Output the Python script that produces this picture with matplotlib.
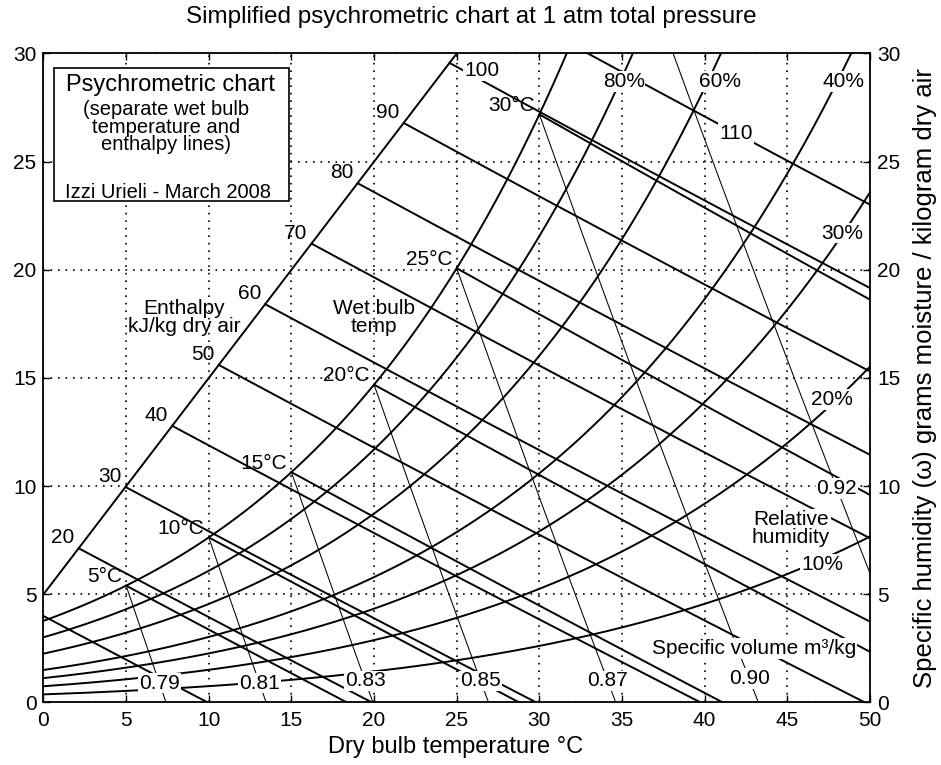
import numpy as np
import matplotlib
matplotlib.use("Agg")
import matplotlib.pyplot as plt
from matplotlib.patches import Rectangle

plt.rcParams['font.family'] = ['Liberation Sans', 'DejaVu Sans']

P_ATM = 101.325  # kPa, total pressure

# ---- chart data ----
rh_levels = [10, 20, 30, 40, 60, 80, 100]                  # % relative humidity curves
rh_label_levels = [10, 20, 30, 40, 60, 80]
rh_label_T = [47.1, 47.7, 48.3, 48.4, 40.9, 35.1]          # label centres (dry bulb)
rh_label_w = [6.4, 14.0, 21.7, 28.7, 28.7, 28.7]           # label centres (g/kg)

enthalpy_levels = [10, 20, 30, 40, 50, 60, 70, 80, 90, 100, 110]   # kJ/kg dry air
enthalpy_scale_labels = [20, 30, 40, 50, 60, 70, 80, 90]
enthalpy_inline_labels = [100, 110]
enthalpy_inline_T = [26.5, 41.9]
enthalpy_inline_w = [29.2, 26.3]
enthalpy_scale_T = [0, 25]     # slanted enthalpy scale line (dry bulb)
enthalpy_scale_w = [5, 30]     # slanted enthalpy scale line (g/kg)

wet_bulb_levels = [5, 10, 15, 20, 25, 30]                  # deg C
# specific volume lines pass through the saturation points at these dry bulb temps
volume_sat_T = [5, 10, 15, 20, 25, 30, 35]
volume_labels = ["0.79", "0.81", "0.83", "0.85", "0.87", "0.90", "0.92"]  # m3/kg
volume_label_w = [0.9, 0.9, 1.0, 1.0, 1.0, 1.1, 9.9]

x_ticks = [0, 5, 10, 15, 20, 25, 30, 35, 40, 45, 50]
y_ticks = [0, 5, 10, 15, 20, 25, 30]


# ---- psychrometric relations ----
def p_sat(T):
    return 0.61078 * np.exp(17.27 * T / (T + 237.3))


def w_rh(T, rh):
    ps = rh / 100.0 * p_sat(T)
    return 622.0 * ps / (P_ATM - ps)


def w_enthalpy(T, h):
    return 1000.0 * (h - 1.006 * T) / (2501.0 + 1.86 * T)


def w_wetbulb(T, twb):
    ws = w_rh(twb, 100) / 1000.0
    return 1000.0 * ((2501.0 - 2.326 * twb) * ws - 1.006 * (T - twb)) / (2501.0 + 1.86 * T - 4.186 * twb)


def spec_volume(T, w):
    return 0.287042 * (T + 273.15) * (1 + 1.6078 * w / 1000.0) / P_ATM


def T_volume(w, v):
    return v * P_ATM / (0.287042 * (1 + 1.6078 * w / 1000.0)) - 273.15


fig = plt.figure(figsize=(9.41, 7.65), dpi=100)
ax = fig.add_axes([0.0462, 0.0817, 0.8783, 0.8484])
ax.set_xlim(x_ticks[0], x_ticks[-1])
ax.set_ylim(y_ticks[0], y_ticks[-1])

LW = 1.4
TXT = 15
label_box = dict(facecolor='white', edgecolor='none', pad=0.6)

T = np.linspace(0, 50, 1001)

# relative humidity curves
for rh in rh_levels:
    ax.plot(T, w_rh(T, rh), color='black', lw=LW, zorder=2)
for rh, tl, wl in zip(rh_label_levels, rh_label_T, rh_label_w):
    ax.text(tl, wl, f"{rh}%", ha='center', va='center', fontsize=TXT,
            bbox=label_box, zorder=3)

# enthalpy scale line and enthalpy lines
ax.plot(enthalpy_scale_T, enthalpy_scale_w, color='black', lw=LW, zorder=2)
slope = (enthalpy_scale_w[1] - enthalpy_scale_w[0]) / (enthalpy_scale_T[1] - enthalpy_scale_T[0])
Tfine = np.linspace(-10, 50, 12001)
scale_w = enthalpy_scale_w[0] + slope * (Tfine - enthalpy_scale_T[0])
h_start = {}
for h in enthalpy_levels:
    diff = w_enthalpy(Tfine, h) - scale_w
    t0 = max(Tfine[np.argmax(diff <= 0)], 0.0)
    h_start[h] = t0
    Th = np.linspace(t0, 50, 800)
    wh = w_enthalpy(Th, h)
    m = wh >= 0
    ax.plot(Th[m], wh[m], color='black', lw=LW, zorder=2)
for h in enthalpy_scale_labels:
    t0 = h_start[h]
    ax.annotate(str(h), xy=(t0, w_enthalpy(t0, h)), xytext=(-3, 7.5),
                textcoords='offset points', ha='right', va='center', fontsize=TXT, zorder=3)
for h, tl, wl in zip(enthalpy_inline_labels, enthalpy_inline_T, enthalpy_inline_w):
    ax.text(tl, wl, str(h), ha='center', va='center', fontsize=TXT,
            bbox=label_box, zorder=3)

# wet bulb lines
for twb in wet_bulb_levels:
    Tw = np.linspace(twb, 50, 800)
    ww = w_wetbulb(Tw, twb)
    m = ww >= 0
    ax.plot(Tw[m], ww[m], color='black', lw=LW, zorder=2)
    ax.annotate(f"{twb}°C", xy=(twb, w_rh(twb, 100)), xytext=(-3, 6.5),
                textcoords='offset points', ha='right', va='center', fontsize=TXT, zorder=3)

# specific volume lines (from the saturation curve down to dry air)
for ts, lab, wl in zip(volume_sat_T, volume_labels, volume_label_w):
    ws = w_rh(ts, 100)
    v = spec_volume(ts, ws)
    wv = np.linspace(0, ws, 300)
    ax.plot(T_volume(wv, v), wv, color='black', lw=0.75, zorder=2)
    ax.text(T_volume(wl, v), wl, lab, ha='center', va='center', fontsize=TXT,
            bbox=label_box, zorder=3)

# descriptive labels
ax.text(8.5, 17.8, "Enthalpy\nkJ/kg dry air", ha='center', va='center', fontsize=TXT,
        linespacing=0.9, zorder=3)
ax.text(20.0, 17.8, "Wet bulb\ntemp", ha='center', va='center', fontsize=TXT,
        linespacing=0.9, zorder=3)
ax.text(45.2, 8.05, "Relative\nhumidity", ha='center', va='center', fontsize=TXT,
        linespacing=0.9, bbox=label_box, zorder=3)
ax.text(43.0, 2.5, "Specific volume m³/kg", ha='center', va='center', fontsize=TXT,
        bbox=label_box, zorder=3)

# info box
ax.add_patch(Rectangle((0.0133, 0.772), 0.2832, 0.205, transform=ax.transAxes,
                       facecolor='white', edgecolor='black', lw=1.2, zorder=5))
ax.text(0.154, 0.952, "Psychrometric chart", transform=ax.transAxes, ha='center',
        va='center', fontsize=17, zorder=6)
ax.text(0.148, 0.886, "(separate wet bulb\ntemperature and\nenthalpy lines)",
        transform=ax.transAxes, ha='center', va='center', fontsize=14.5,
        linespacing=0.9, zorder=6)
ax.text(0.151, 0.786, "Izzi Urieli - March 2008", transform=ax.transAxes, ha='center',
        va='center', fontsize=14.5, zorder=6)

# axes styling
ax.set_xticks(x_ticks)
ax.set_yticks(y_ticks)
ax.grid(True, color='black', linestyle=(0, (1, 3.5)), linewidth=1.2)
ax.tick_params(direction='in', length=5, width=1, top=True, right=True,
               labelright=True, labelsize=15)
ax.tick_params(axis='x', pad=6)
ax.tick_params(axis='y', pad=5)
for s in ax.spines.values():
    s.set_linewidth(1.3)
ax.set_xlabel("Dry bulb temperature °C", fontsize=17, va='center')
ax.xaxis.set_label_coords(0.4985, -0.0686)
ax.yaxis.set_label_position('right')
ax.set_ylabel("Specific humidity (ω) grams moisture / kilogram dry air", fontsize=18.5,
              va='center', ha='center')
ax.yaxis.set_label_coords(1.0665, 0.5)
fig.text(0.5005, 0.978, "Simplified psychrometric chart at 1 atm total pressure",
         ha='center', va='center', fontsize=17.5)

fig.savefig("out.png", dpi=100)
